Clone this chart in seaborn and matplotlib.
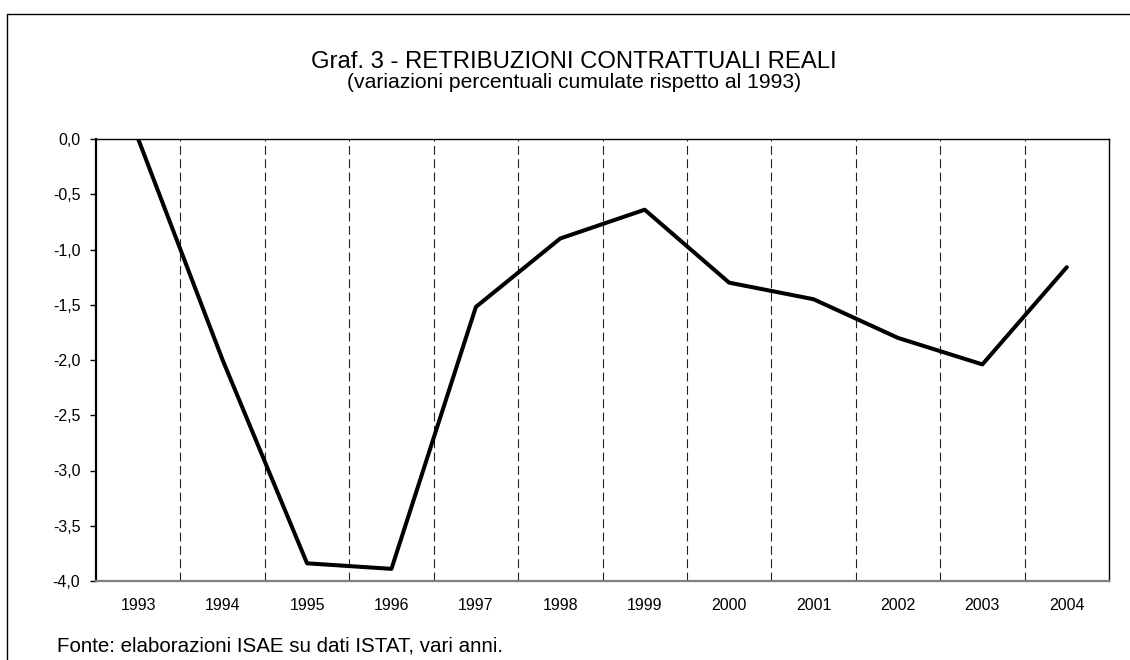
import numpy as np
import pandas as pd
import matplotlib
matplotlib.use('Agg')
import matplotlib.pyplot as plt
from matplotlib.lines import Line2D
from matplotlib.ticker import FuncFormatter, MultipleLocator
import seaborn as sns

years = ['1993', '1994', '1995', '1996', '1997', '1998',
         '1999', '2000', '2001', '2002', '2003', '2004']
values = [0.0, -2.0, -3.84, -3.89, -1.52, -0.90,
          -0.64, -1.30, -1.45, -1.80, -2.04, -1.16]

title = 'Graf. 3 - RETRIBUZIONI CONTRATTUALI REALI'
subtitle = '(variazioni percentuali cumulate rispetto al 1993)'
source = 'Fonte: elaborazioni ISAE su dati ISTAT, vari anni.'

df = pd.DataFrame({'anno': years, 'var': values})

sns.set_style('white')
plt.rcParams['font.family'] = ['Liberation Sans', 'DejaVu Sans']
plt.rcParams['text.color'] = 'black'
plt.rcParams['xtick.color'] = 'black'
plt.rcParams['ytick.color'] = 'black'

fig = plt.figure(figsize=(11.3, 6.6), dpi=100)
ax = fig.add_axes([96 / 1130, 1 - 581 / 660, (1109 - 96) / 1130, (581 - 139) / 660])

# dashed separators between years
for i in range(len(years) - 1):
    ax.axvline(i + 0.5, color='#222222', lw=0.8, dashes=(8, 4), zorder=1)

sns.lineplot(data=df, x='anno', y='var', color='black', lw=2.9, ax=ax,
             sort=False, zorder=3)

ax.set_xlim(-0.5, len(years) - 0.5)
ax.set_ylim(-4.0, 0.0)
ax.yaxis.set_major_locator(MultipleLocator(0.5))
ax.yaxis.set_major_formatter(FuncFormatter(lambda v, p: f'{v:.1f}'.replace('.', ',')))
ax.set_xlabel('')
ax.set_ylabel('')

for side in ['top', 'right', 'left']:
    ax.spines[side].set_visible(True)
    ax.spines[side].set_color('black')
    ax.spines[side].set_linewidth(1.0)
ax.spines['left'].set_linewidth(1.6)
ax.spines['bottom'].set_color('#808080')
ax.spines['bottom'].set_linewidth(1.6)

ax.tick_params(axis='y', which='major', direction='out', length=4.3, width=1,
               color='black', left=True, labelsize=11.5, pad=7)
ax.tick_params(axis='x', which='major', bottom=False, length=0,
               labelsize=11.5, pad=12)

fig.text(574 / 1130, 1 - 62 / 660, title, ha='center', va='center', fontsize=17.2)
fig.text(574 / 1130, 1 - 82 / 660, subtitle, ha='center', va='center', fontsize=15.2)
fig.text(57 / 1130, 1 - 646 / 660, source, ha='left', va='center', fontsize=14.8)

# outer frame (top and left edges)
fig.add_artist(Line2D([7 / 1130, 1.0], [1 - 14 / 660, 1 - 14 / 660],
                      transform=fig.transFigure, color='black', lw=1))
fig.add_artist(Line2D([7 / 1130, 7 / 1130], [0.0, 1 - 14 / 660],
                      transform=fig.transFigure, color='black', lw=1))

fig.savefig('out.png', dpi=100, facecolor='white')
